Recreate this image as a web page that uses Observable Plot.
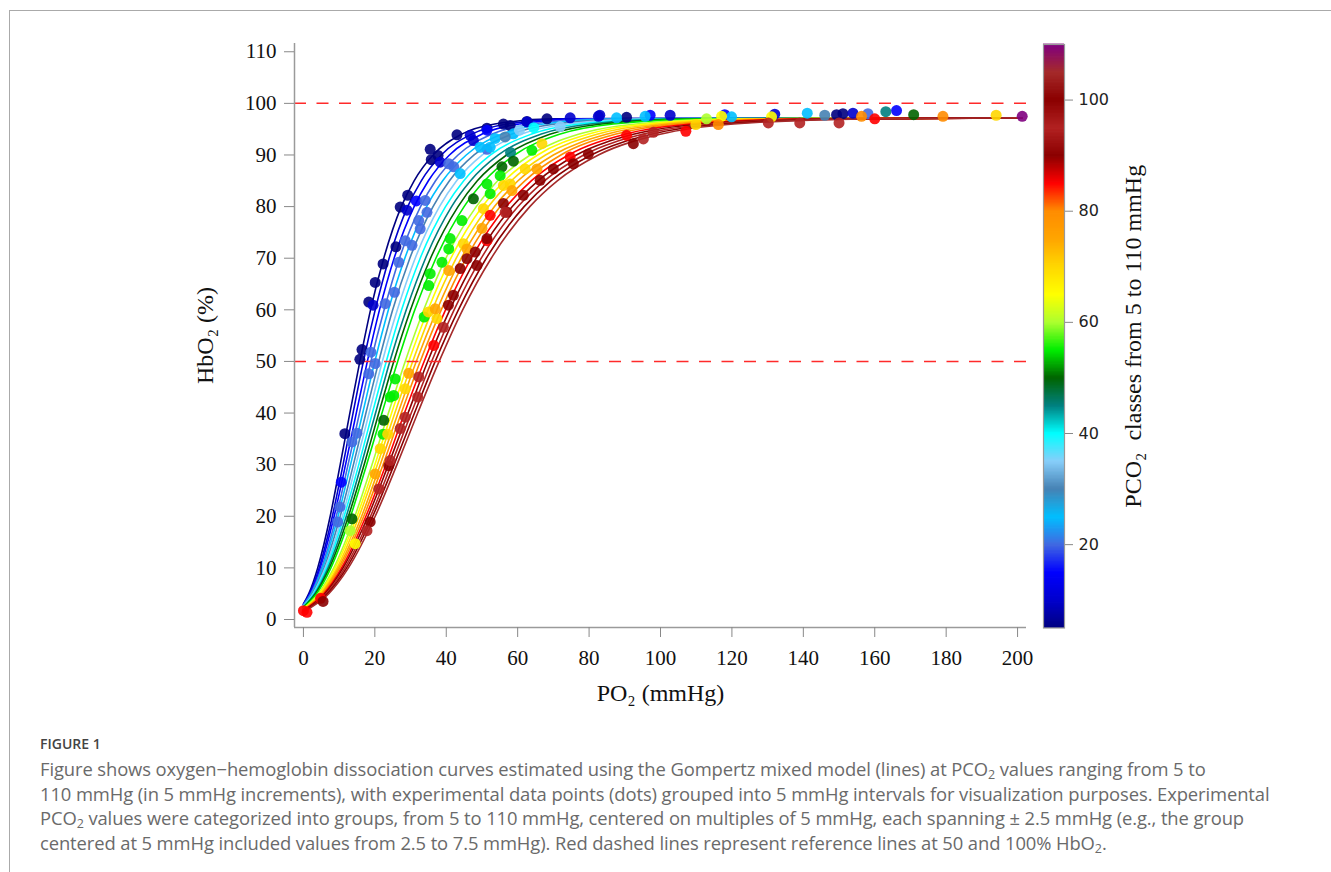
<!DOCTYPE html>
<html><head><meta charset="utf-8">
<script src="https://cdn.jsdelivr.net/npm/d3@7"></script>
<script src="https://cdn.jsdelivr.net/npm/@observablehq/plot@0.6"></script>
<style>
body{margin:0;background:#fff;}
#wrap{position:relative;width:1331px;height:872px;overflow:hidden;background:#fff;}
#border{position:absolute;left:9px;top:10px;right:-2px;bottom:-2px;border-top:1px solid #aaa;border-left:1px solid #aaa;}
#main{position:absolute;left:0;top:0;}
#cbar{position:absolute;left:1000px;top:0;}
#fig{position:absolute;left:40px;top:734px;font-family:"Open Sans";font-weight:600;font-size:14px;color:#444;}
#cap{position:absolute;left:40px;top:757px;width:1290px;font-family:"Open Sans";font-size:18.4px;line-height:24.5px;color:#6a6a6a;white-space:nowrap;margin:0;letter-spacing:-0.1px;}
#cap sub{font-size:12.5px;vertical-align:-3px;line-height:0;}
</style></head>
<body><div id="wrap"><div id="border"></div><div id="main"></div><div id="cbar"></div>
<div id="fig">FIGURE 1</div>
<p id="cap">Figure shows oxygen−hemoglobin dissociation curves estimated using the Gompertz mixed model (lines) at PCO<sub>2</sub> values ranging from 5 to<br>110 mmHg (in 5 mmHg increments), with experimental data points (dots) grouped into 5 mmHg intervals for visualization purposes. Experimental<br>PCO<sub>2</sub> values were categorized into groups, from 5 to 110 mmHg, centered on multiples of 5 mmHg, each spanning ± 2.5 mmHg (e.g., the group<br>centered at 5 mmHg included values from 2.5 to 7.5 mmHg). Red dashed lines represent reference lines at 50 and 100% HbO<sub>2</sub>.</p>
</div>
<script>
// PCO2 classes and their colours (colour bar)
const pco2Levels = [5,10,15,20,25,30,35,40,45,50,55,60,65,70,75,80,85,90,95,100,105,110];
const classColors = ["#000080","#0000CD","#0000FF","#4169E1","#00BFFF","#4682B4","#87CEFA","#00FFFF","#008080","#006400","#00EE00","#ADFF2F","#FFFF00","#FFD700","#FFA500","#FF8C00","#FF0000","#8B0000","#B22222","#8B0000","#A52A2A","#800080"];

// Model curves: one per PCO2 class, PO2 (mmHg) at which each reaches these HbO2 levels (%)
const curvePCO2 = [5,10,15,20,25,30,35,40,45,50,55,60,65,70,75,80,85,90,95,100,105];
const satLevels = [5,10,20,30,40,50,60,70,80,85,90,94,96,97];
const curvePO2 = [
 [1.5,4.0,7.5,10.3,13.0,15.8,18.8,22.5,27.4,31.0,36.3,44.2,53.6,70.7],
 [1.7,4.4,8.1,11.1,13.9,16.8,20.1,24.0,29.2,33.0,38.6,47.0,57.1,75.2],
 [1.9,4.7,8.6,11.8,14.8,17.9,21.3,25.4,31.0,35.0,40.9,49.9,60.5,79.7],
 [2.1,5.1,9.2,12.5,15.7,18.9,22.6,26.9,32.8,37.0,43.3,52.7,63.8,84.1],
 [2.3,5.4,9.7,13.2,16.6,20.0,23.8,28.4,34.5,39.0,45.6,55.4,67.2,88.5],
 [2.5,5.8,10.3,14.0,17.5,21.1,25.0,29.8,36.3,40.9,47.8,58.2,70.5,92.8],
 [2.7,6.1,10.9,14.7,18.4,22.1,26.3,31.3,38.1,42.9,50.1,60.9,73.8,97.1],
 [2.9,6.5,11.4,15.5,19.3,23.2,27.5,32.7,39.8,44.9,52.4,63.7,77.1,101.4],
 [3.2,6.9,12.0,16.2,20.2,24.2,28.8,34.2,41.5,46.8,54.6,66.4,80.3,105.7],
 [3.4,7.3,12.6,17.0,21.1,25.3,30.0,35.6,43.3,48.7,56.9,69.0,83.6,109.9],
 [3.7,7.7,13.2,17.7,22.0,26.4,31.2,37.1,45.0,50.7,59.1,71.7,86.8,114.0],
 [4.2,8.5,14.4,19.2,23.8,28.5,33.7,39.9,48.4,54.4,63.5,77.0,93.1,122.2],
 [4.5,8.9,15.0,20.0,24.7,29.5,34.9,41.3,50.1,56.3,65.6,79.6,96.2,126.3],
 [4.8,9.4,15.6,20.7,25.6,30.6,36.1,42.8,51.8,58.2,67.8,82.2,99.3,130.3],
 [5.1,9.8,16.3,21.5,26.5,31.6,37.4,44.2,53.5,60.1,70.0,84.8,102.4,134.3],
 [5.4,10.2,16.9,22.3,27.4,32.7,38.6,45.6,55.1,62.0,72.1,87.3,105.4,138.3],
 [5.7,10.7,17.5,23.1,28.3,33.8,39.8,47.0,56.8,63.8,74.2,89.9,108.5,142.2],
 [6.0,11.1,18.1,23.8,29.3,34.8,41.0,48.4,58.5,65.7,76.4,92.4,111.5,146.1],
 [6.4,11.6,18.8,24.6,30.2,35.9,42.2,49.8,60.1,67.5,78.5,94.9,114.5,150.0],
 [6.7,12.1,19.4,25.4,31.1,36.9,43.4,51.2,61.8,69.3,80.6,97.4,117.4,153.8],
 [7.1,12.6,20.1,26.2,32.0,38.0,44.6,52.6,63.4,71.1,82.6,99.9,120.4,157.6]
];
// HbO2 at PO2 = 0 for each curve, and the common plateau at the end of the curves
const curveStart = [3.0,2.9,2.9,2.8,2.7,2.6,2.6,2.5,2.4,2.4,2.3,2.1,2.1,2.0,1.9,1.9,1.8,1.7,1.6,1.6,1.5];
const curveEndPO2 = 201.3;
const plateauHbO2 = 97.2;

// Experimental points, grouped by PCO2 class
const dotClass = [5,10,15,20,25,30,35,40,45,50,55,60,65,70,75,80,85,90,95,100,110];
const dotPO2 = [
 [35.5,35.8,37.7,43.0,51.4,29.2,27.1,25.9,22.3,20.1,18.3,16.4,15.8,11.6,57.9,68.2,90.5,149.3,151.1,62.6,56.0],
 [29.0,38.3,46.7,47.6,19.5,62.6,74.7,82.6,102.7,132.0,153.9,83.0],
 [31.6,10.6,97.1,118.0,166.1,51.4],
 [42.1,40.7,34.1,34.6,32.3,32.7,28.5,30.4,26.7,25.5,22.9,18.9,18.3,20.1,13.6,15.0,10.2,9.6,51.4,158.1],
 [43.9,49.5,52.3,53.7,58.8,87.7,95.7,141.1,119.9],
 [146.0,56.5],
 [71.9,60.5],
 [64.5],
 [163.1,58.0],
 [47.6,55.6,58.8,22.5,13.6,170.9],
 [51.4,52.3,44.4,41.1,40.7,38.8,35.5,55.1,35.1,33.8,25.7,24.3,25.3,22.3,64.0],
 [112.9,13.1],
 [117.1,131.1,14.5],
 [50.4,44.8,56.0,57.9,35.0,37.4,28.5,23.6,21.5,62.1,66.8,109.9,194.0],
 [45.8,58.4,40.7,36.9,29.5,20.1,65.4,50.0],
 [116.2,156.3,179.1],
 [51.4,52.3,74.7,90.5,107.1,160.0,4.8,0.0,1.0,36.5],
 [56.0,48.1,48.6,45.8,43.9,61.6,57.0,42.0,40.6,18.7,23.9,70.0,66.3,75.6,79.8,92.4],
 [39.2,32.3,32.0,28.5,27.1,24.3,21.1,17.8,95.2,98.0,130.2,139.0,150.0,56.5],
 [51.4,5.5],
 [201.3]
];
const dotHbO2 = [
 [91.1,89.1,89.9,93.9,95.2,82.2,79.9,72.2,68.9,65.3,61.5,52.3,50.4,36.0,95.7,97.0,97.3,97.8,98.0,96.5,96.0],
 [79.3,88.6,93.8,92.8,60.9,96.4,97.2,97.5,97.7,97.9,98.1,97.7],
 [81.1,26.6,97.7,97.8,98.6,94.8],
 [87.7,88.3,81.2,78.9,77.3,75.7,73.4,72.5,69.2,63.4,61.2,51.8,47.6,49.6,34.4,36.1,21.8,18.9,91.1,98.0],
 [86.4,91.5,91.5,93.2,94.1,97.2,97.5,98.1,97.4],
 [97.7,93.5],
 [95.5,94.8],
 [95.3],
 [98.4,90.5],
 [81.5,87.7,88.8,38.6,19.5,97.8],
 [84.4,82.5,77.3,73.8,71.8,69.2,67.0,86.0,64.7,58.6,46.6,43.1,43.4,35.9,90.9],
 [97.0,17.2],
 [97.5,97.4,14.7],
 [79.6,72.8,84.1,84.4,59.6,58.3,44.7,35.9,33.1,87.3,92.2,95.9,97.7],
 [71.8,83.1,67.6,60.2,47.7,28.2,87.3,75.8],
 [95.9,97.5,97.5],
 [73.4,78.3,89.6,93.8,94.6,97.0,4.1,1.7,1.4,53.1],
 [80.6,71.2,68.6,69.9,68.0,82.2,78.9,62.8,60.9,18.9,29.8,87.3,85.1,88.3,90.2,92.2],
 [56.6,47.0,43.1,39.2,37.0,30.8,25.3,17.2,93.1,94.4,96.2,96.2,96.2,78.9],
 [73.8,3.5],
 [97.5]
];

const xTicks = [0,20,40,60,80,100,120,140,160,180,200];
const yTicks = [0,10,20,30,40,50,60,70,80,90,100,110];
const refLines = [50,100];
const cbarTicks = [20,40,60,80,100];
const xTitle = "PO₂ (mmHg)";
const yTitle = "HbO₂ (%)";
const cbarTitle = "PCO₂  classes from 5 to 110 mmHg";

// ---- build tables
const curveRows = [];
curvePCO2.forEach((p, i) => {
  curveRows.push({pco2: p, po2: 0, hbo2: curveStart[i]});
  satLevels.forEach((s, j) => curveRows.push({pco2: p, po2: curvePO2[i][j], hbo2: s}));
  curveRows.push({pco2: p, po2: curveEndPO2, hbo2: plateauHbO2});
});
const dotRows = [];
dotClass.forEach((p, g) => dotPO2[g].forEach((x, k) => dotRows.push({pco2: p, po2: x, hbo2: dotHbO2[g][k]})));

const colorScale = {type: "linear", domain: pco2Levels, range: classColors, interpolate: "rgb"};
const serif = "Liberation Serif";

const main = Plot.plot({
  width: 1331, height: 720,
  marginTop: 43, marginBottom: 93, marginLeft: 294, marginRight: 305,
  x: {domain: [-2.5, 202.5]},
  y: {domain: [-1.55, 111.6]},
  color: colorScale,
  style: {fontFamily: serif, background: "transparent", overflow: "visible", color: "#111"},
  marks: [
    Plot.line(curveRows, {x: "po2", y: "hbo2", z: "pco2", stroke: "pco2", strokeWidth: 1.6, curve: "monotone-x"}),
    Plot.ruleY(refLines, {stroke: "#ff2a2a", strokeWidth: 1.5, strokeDasharray: "12,10.5"}),
    Plot.dot(dotRows, {x: "po2", y: "hbo2", r: 5.5, fill: "pco2", fillOpacity: 0.9}),
    Plot.ruleX([-2.5], {stroke: "#9a9a9a", strokeWidth: 1.5}),
    Plot.ruleY([-1.55], {stroke: "#9a9a9a", strokeWidth: 1.5}),
    Plot.axisY({ticks: yTicks, tickSize: 10, tickPadding: 8, stroke: "#888", fill: "#111", fontSize: 21, label: null, tickFormat: d => String(d)}),
    Plot.axisX({ticks: xTicks, tickSize: 10, tickPadding: 13, stroke: "#888", fill: "#111", fontSize: 21, label: null, tickFormat: d => String(d)}),
    Plot.text([yTitle], {text: d => d, frameAnchor: "left", dx: -89, rotate: -90, textAnchor: "middle", fontSize: 24, fill: "#111"}),
    Plot.text([xTitle], {text: d => d, frameAnchor: "bottom", dy: 73, textAnchor: "middle", fontSize: 24, fill: "#111"})
  ]
});
document.getElementById("main").appendChild(main);

const step = 0.25;
const ramp = d3.range(5, 110, step);
const cbar = Plot.plot({
  width: 220, height: 720,
  marginTop: 44, marginBottom: 92.5, marginLeft: 43, marginRight: 156,
  x: {domain: [0, 1], axis: null},
  y: {domain: [5, 110], axis: null},
  color: colorScale,
  style: {fontFamily: "DejaVu Sans", background: "transparent", overflow: "visible", color: "#222"},
  marks: [
    Plot.rect(ramp, {x1: 0, x2: 1, y1: d => d, y2: d => d + step, fill: d => d + step / 2, insetTop: -0.4, insetBottom: -0.4}),
    Plot.frame({stroke: "#999", strokeWidth: 1.2}),
    Plot.axisY({anchor: "right", ticks: cbarTicks, tickSize: 8, tickPadding: 6, stroke: "#888", fill: "#222", fontSize: 16, label: null, tickFormat: d => String(d)}),
    Plot.text([cbarTitle], {text: d => d, frameAnchor: "right", dx: 69, rotate: -90, textAnchor: "middle", fontSize: 24, fontFamily: serif, fill: "#111"})
  ]
});
document.getElementById("cbar").appendChild(cbar);
</script>
</body></html>
